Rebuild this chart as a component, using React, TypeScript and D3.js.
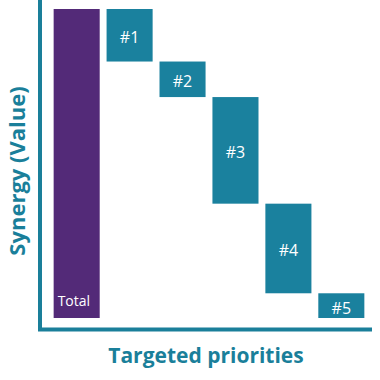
import React from "react";
import * as d3 from "d3";

const categories = ["Total", "#1", "#2", "#3", "#4", "#5"];
const totalValue = 100;
const stepValues = [17, 11.5, 34.5, 29, 8];

const W = 380, H = 380;
const PURPLE = "#532a78";
const TEAL = "#1a819e";
const AXIS = "#1a7f9a";

export default function App() {
  const x = d3.scaleBand<string>().domain(categories).range([51, 367]).paddingInner(0.13).paddingOuter(0.05);
  const y = d3.scaleLinear().domain([0, totalValue]).range([318, 9]);

  const bars: { name: string; y0: number; y1: number; fill: string }[] = [];
  bars.push({ name: categories[0], y0: 0, y1: totalValue, fill: PURPLE });
  let cur = totalValue;
  stepValues.forEach((v, i) => {
    bars.push({ name: categories[i + 1], y0: cur - v, y1: cur, fill: TEAL });
    cur -= v;
  });

  const font = "'Open Sans', 'Noto Sans', sans-serif";

  return (
    <svg width={W} height={H} style={{ position: "absolute", left: 0, top: 0 }} fontFamily={font}>
      <rect width={W} height={H} fill="#ffffff" />
      {bars.map((b) => {
        const x0 = x(b.name)!;
        const yt = y(b.y1);
        const yb = y(b.y0);
        return (
          <g key={b.name}>
            <rect x={x0} y={yt} width={x.bandwidth()} height={yb - yt} fill={b.fill} />
            {b.name === "Total" ? (
              <text x={x0 + 4} y={yb - 12} fill="#fff" fontSize={14}>Total</text>
            ) : (
              <text x={x0 + x.bandwidth() / 2} y={(yt + yb) / 2 + 2} fill="#fff" fontSize={16} textAnchor="middle" dominantBaseline="central">{b.name}</text>
            )}
          </g>
        );
      })}
      <path d={`M40,0 V329.5 H372`} fill="none" stroke={AXIS} strokeWidth={4} />
      <text x={206} y={363} textAnchor="middle" fill={AXIS} fontSize={21} fontWeight="bold">Targeted priorities</text>
      <text transform={`translate(25,171) rotate(-90)`} textAnchor="middle" fill={AXIS} fontSize={22} fontWeight="bold">Synergy (Value)</text>
    </svg>
  );
}
